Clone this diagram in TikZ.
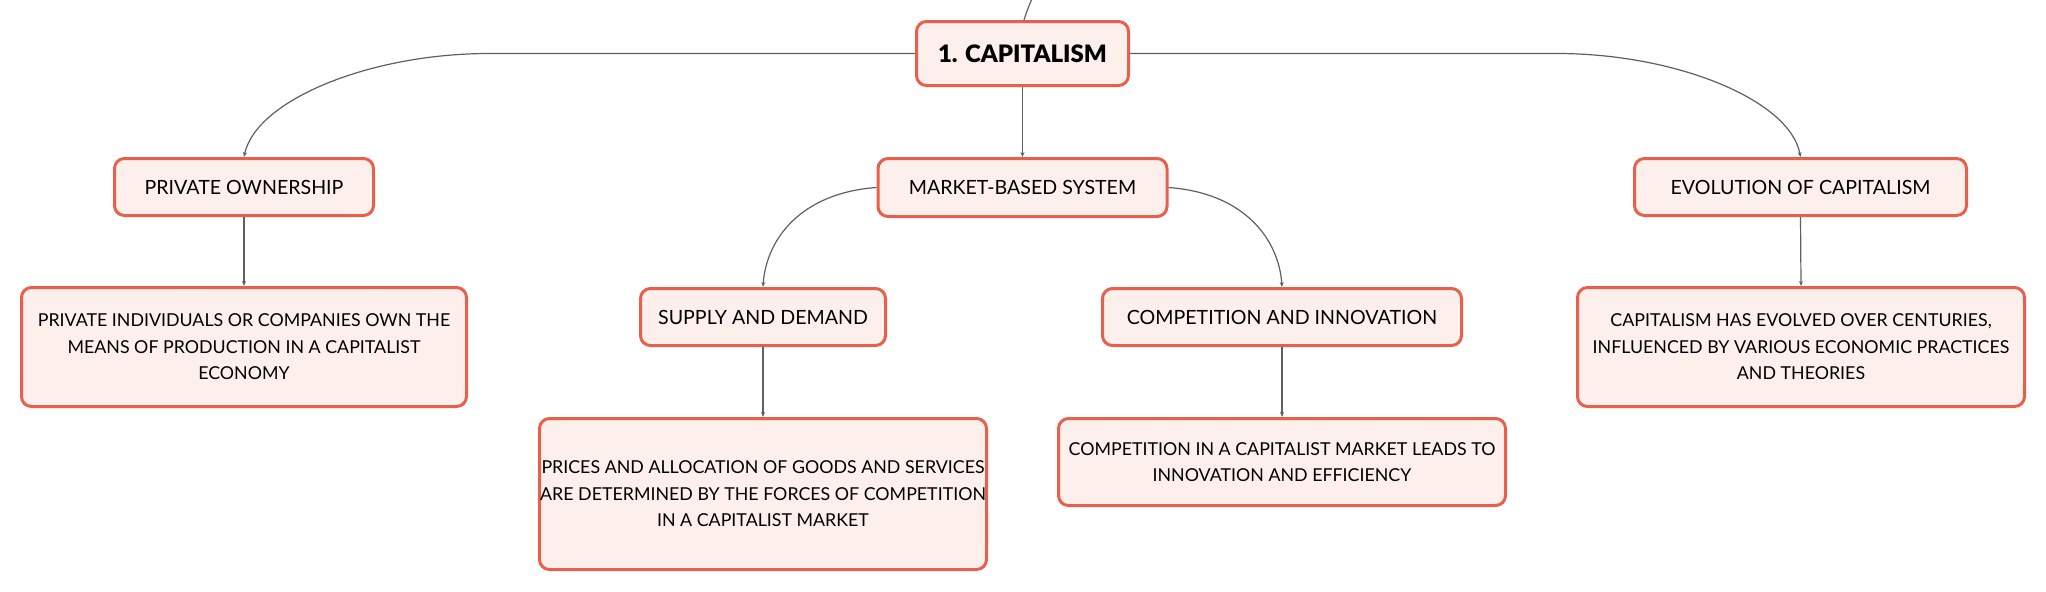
\documentclass[tikz,border=0pt]{standalone}
\usepackage{fontspec}
\setmainfont{Lato}
\newfontfamily\titlefont{Lato Black}
\usetikzlibrary{arrows.meta}
\definecolor{boxline}{HTML}{E8604C}
\definecolor{boxfill}{HTML}{FDF0EC}
\definecolor{conn}{HTML}{5F5F5F}
\tikzset{
  sz/.style 2 args={minimum width=#1*0.5pt, minimum height=#2*0.5pt},
  topicbox/.style={draw=boxline, fill=boxfill, line width=1.5pt, rounded corners=5pt,
    align=center, inner sep=0pt, font=\fontsize{9.8}{13.3}\selectfont},
  detailbox/.style={topicbox, font=\fontsize{8.9}{13.3}\selectfont},
  rootbox/.style={topicbox, font=\fontsize{12}{14}\selectfont\titlefont},
  link/.style={draw=conn, line width=0.6pt, -{Stealth[length=2.5pt,width=2pt]}}
}
\begin{document}
\begin{tikzpicture}[x=0.5pt,y=-0.5pt]
\useasboundingbox (0,0) rectangle (2046,591);
\node[rootbox, sz={212}{64}] (cap) at (1022.5,53.5) {1. CAPITALISM};
\node[topicbox, sz={289}{58}] (mkt) at (1022.5,187.5) {MARKET-BASED SYSTEM};
\node[topicbox, sz={259}{57}] (pri) at (244,187) {PRIVATE OWNERSHIP};
\node[topicbox, sz={332}{57}] (evo) at (1800.5,187) {EVOLUTION OF CAPITALISM};
\node[topicbox, sz={245}{57}] (sup) at (763,317) {SUPPLY AND DEMAND};
\node[topicbox, sz={359}{57}] (com) at (1282,317) {COMPETITION AND INNOVATION};
\node[detailbox, sz={445}{119}] (prid) at (244,347)
  {PRIVATE INDIVIDUALS OR COMPANIES OWN THE\\MEANS OF PRODUCTION IN A CAPITALIST\\ECONOMY};
\node[detailbox, sz={447}{151}] (supd) at (763,494)
  {PRICES AND ALLOCATION OF GOODS AND SERVICES\\ARE DETERMINED BY THE FORCES OF COMPETITION\\IN A CAPITALIST MARKET};
\node[detailbox, sz={447}{87}] (comd) at (1282,462)
  {COMPETITION IN A CAPITALIST MARKET LEADS TO\\INNOVATION AND EFFICIENCY};
\node[detailbox, sz={447}{119}] (evod) at (1801,347)
  {CAPITALISM HAS EVOLVED OVER CENTURIES,\\INFLUENCED BY VARIOUS ECONOMIC PRACTICES\\AND THEORIES};
\coordinate (up) at (1034,-6);
\coordinate (lh) at (489,53.5);
\coordinate (rh) at (1557,53.5);
% connectors
\draw[draw=conn, line width=0.6pt] (up) .. controls (1028,8) .. ([xshift=0.75pt]cap.north);
\draw[link] (cap.west) -- (lh) .. controls (370,53.5) and (256,100) .. (pri.north);
\draw[link] (cap.east) -- (rh) .. controls (1676,53.5) and (1790,100) .. (evo.north);
\draw[link] (cap.south) -- (mkt.north);
\draw[link] (mkt.west) .. controls (800,193) and (766,240) .. (sup.north);
\draw[link] (mkt.east) .. controls (1245,193) and (1279,240) .. (com.north);
\draw[link] (pri.south) -- (prid.north);
\draw[link] (evo.south) -- (evod.north);
\draw[link] (sup.south) -- (supd.north);
\draw[link] (com.south) -- (comd.north);
\end{tikzpicture}
\end{document}
